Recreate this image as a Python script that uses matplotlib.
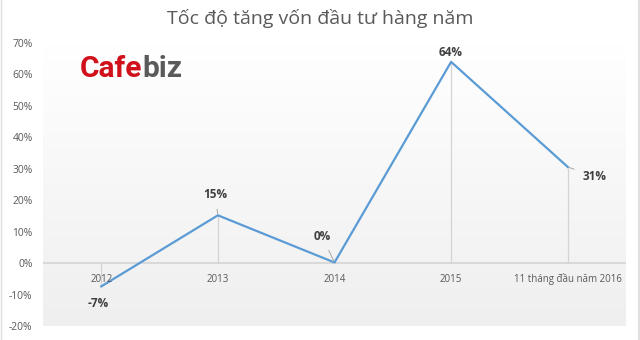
import matplotlib
matplotlib.use("Agg")
import matplotlib.pyplot as plt
import numpy as np
from matplotlib.colors import LinearSegmentedColormap

categories = ["2012", "2013", "2014", "2015", "11 tháng đầu năm 2016"]
values = [-7.4, 15.2, 0.2, 64.0, 30.6]
labels = ["-7%", "15%", "0%", "64%", "31%"]
yticks = [-20, -10, 0, 10, 20, 30, 40, 50, 60, 70]
title = "Tốc độ tăng vốn đầu tư hàng năm"

plt.rcParams['font.family'] = ['Open Sans', 'DejaVu Sans']

fig = plt.figure(figsize=(6.4, 3.4), dpi=100)
ax = fig.add_axes([43/640, 1-326/340, (626-43)/640, (326-43)/340])

x = np.arange(len(categories))
ax.set_xlim(-0.5, len(categories) - 0.5)
ax.set_ylim(-20, 70)

# gradient background
cmap = LinearSegmentedColormap.from_list("bg", ["#efefef", "#ffffff"])
grad = np.linspace(0, 1, 256).reshape(-1, 1)
ax.imshow(grad, aspect='auto', cmap=cmap, origin='lower',
          extent=[-0.5, len(categories) - 0.5, -20, 70], zorder=0)

# drop lines
for xi, v in zip(x, values):
    ax.plot([xi, xi], [0, v], color="#d4d4d4", lw=0.9, zorder=1)
ax.axhline(0, color="#d4d4d4", lw=1.2, zorder=1)

ax.plot(x, values, color="#5b9bd5", lw=1.6, zorder=3)

# data labels
lab_style = dict(fontsize=8.5, fontweight='bold', color="#404040")
offsets = [(-2, -12, 'center', 'center'), (-2, 15, 'center', 'center'),
           (-9, 19, 'center', 'center'), (0, 6.5, 'center', 'center'),
           (19, -7, 'center', 'center')]
arrows = [False, True, True, False, True]
for xi, v, lab, (dx, dy, ha, va), arr in zip(x, values, labels, offsets, arrows):
    ap = dict(arrowstyle='-', color="#a6a6a6", lw=0.7, shrinkA=4, shrinkB=1) if arr else None
    ax.annotate(lab, xy=(xi, v), xytext=(dx, dy), textcoords='offset points',
                ha=ha, va=va, arrowprops=ap, zorder=4, **lab_style)

ax.set_yticks(yticks)
ax.set_yticklabels([f"{t}%" for t in yticks], fontsize=7.4, color="#595959")
ax.set_xticks([])
for xi, c in zip(x, categories):
    ax.text(xi, -5.2, c, ha='center', va='center', fontsize=7, color="#595959", zorder=4)

for s in ax.spines.values():
    s.set_visible(False)
ax.tick_params(axis='y', length=0, pad=7.5)

fig.text(0.5, 1-19/340, title, ha='center', va='center', fontsize=14, color="#595959")

# logo as text
cafe = fig.text(80/640, 1-69/340, "Cafe", ha='left', va='center', fontsize=21.5,
                fontweight='bold', color="#d0101a", family=['Roboto', 'DejaVu Sans'])
ax.annotate("biz", xy=(1, 0), xycoords=cafe, xytext=(0, 0), textcoords='offset points',
            ha='left', va='bottom', fontsize=21.5, fontweight='bold', color="#5a5a5a",
            family=['Roboto', 'DejaVu Sans'], annotation_clip=False)

fig.add_artist(plt.Line2D([1-1.5/640, 1-1.5/640], [0, 1], color="#e0e0e0", lw=1.5,
                          transform=fig.transFigure))
fig.add_artist(plt.Line2D([0.5/640, 0.5/640], [0, 1], color="#e0e0e0", lw=1,
                          transform=fig.transFigure))

fig.savefig("out.png", dpi=100)
